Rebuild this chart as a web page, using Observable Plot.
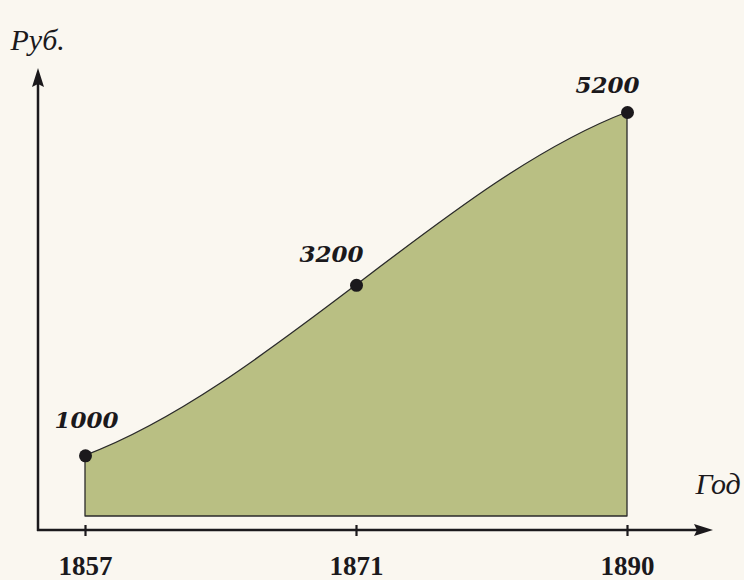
<!DOCTYPE html>
<html>
<head>
<meta charset="utf-8">
<script src="https://cdn.jsdelivr.net/npm/d3@7"></script>
<script src="https://cdn.jsdelivr.net/npm/@observablehq/plot@0.6"></script>
<style>
  html, body { margin: 0; padding: 0; background: #faf7f0; }
  #chart { width: 744px; height: 580px; }
</style>
</head>
<body>
<div id="chart"></div>
<script>
// ---- data ----
const years = [1857, 1871, 1890];
const values = [1000, 3200, 5200];
const valueLabels = ["1000", "3200", "5200"];
const yAxisTitle = "Руб.";
const xAxisTitle = "Год";

const data = years.map((year, i) => ({ year, value: values[i], label: valueLabels[i] }));

// ---- style ----
const W = 744, H = 580;
const mL = 84, mR = 117, mT = 112, mB = 64;
const ink = "#1b191c";
const serif = "Liberation Serif";
const heavySerif = "DejaVu Serif";

// Clamped cubic spline: end tangents are a fraction of the end chords, C2 inside.
function curveClamped(f) {
  return function (context) {
    let xs = [], ys = [], line = NaN;
    return {
      areaStart() { line = 0; },
      areaEnd() { line = NaN; },
      lineStart() { xs = []; ys = []; },
      point(x, y) { xs.push(+x); ys.push(+y); },
      lineEnd() {
        const n = xs.length;
        if (n) {
          if (line) context.lineTo(xs[0], ys[0]); else context.moveTo(xs[0], ys[0]);
          if (n === 2) context.lineTo(xs[1], ys[1]);
          else if (n > 2) {
            const h = [], s = [];
            for (let i = 0; i < n - 1; i++) { h[i] = xs[i + 1] - xs[i]; s[i] = (ys[i + 1] - ys[i]) / h[i]; }
            const m = new Array(n);
            m[0] = f * s[0]; m[n - 1] = f * s[n - 2];
            const k = n - 2, cp = [], dp = [];
            for (let j = 0; j < k; j++) {
              const i = j + 1;
              const a = j === 0 ? 0 : h[i];
              const c = j === k - 1 ? 0 : h[i - 1];
              const b = 2 * (h[i - 1] + h[i]);
              let d = 3 * (h[i] * s[i - 1] + h[i - 1] * s[i]);
              if (j === 0) d -= h[i] * m[0];
              if (j === k - 1) d -= h[i - 1] * m[n - 1];
              if (j === 0) { cp[j] = c / b; dp[j] = d / b; }
              else { const den = b - a * cp[j - 1]; cp[j] = c / den; dp[j] = (d - a * dp[j - 1]) / den; }
            }
            for (let j = k - 1; j >= 0; j--) m[j + 1] = dp[j] - (j < k - 1 ? cp[j] * m[j + 2] : 0);
            for (let i = 0; i < n - 1; i++) {
              const dx = h[i] / 3;
              context.bezierCurveTo(xs[i] + dx, ys[i] + m[i] * dx, xs[i + 1] - dx, ys[i + 1] - m[i + 1] * dx, xs[i + 1], ys[i + 1]);
            }
          }
        }
        if (line || (line !== 0 && n === 1)) context.closePath();
        line = 1 - line;
      }
    };
  };
}

const labelFont = { fontFamily: heavySerif, fontWeight: "bold", fontStyle: "italic", fontSize: 23, fill: ink };

const plot = Plot.plot({
  width: W, height: H,
  marginLeft: mL, marginRight: mR, marginTop: mT, marginBottom: mB,
  style: { background: "#faf7f0", fontFamily: serif, overflow: "visible" },
  x: { type: "point", domain: years, padding: 0 },
  y: { type: "pow", exponent: 1.15, domain: [0, 5200], axis: null },
  marks: [
    Plot.areaY(data, { x: "year", y: "value", curve: curveClamped(0.6),
      fill: "#b9bf83", stroke: "#2a2a2a", strokeWidth: 1.3 }),
    Plot.axisX({ ticks: years, tickFormat: d => String(d), tickSize: 11, dy: 9, tickPadding: 19,
      strokeWidth: 2.2, stroke: ink, fill: ink, fontSize: 27, fontWeight: "bold", fontFamily: serif, label: null }),
    Plot.dot(data, { x: "year", y: "value", r: 6.5, fill: ink }),
    Plot.text(data.slice(0, 1), { x: "year", y: "value", text: "label", dx: 1, dy: -35, ...labelFont }),
    Plot.text(data.slice(1, 2), { x: "year", y: "value", text: "label", dx: -25, dy: -31, ...labelFont }),
    Plot.text(data.slice(2, 3), { x: "year", y: "value", text: "label", dx: -20, dy: -27, ...labelFont }),
    Plot.text([yAxisTitle], { frameAnchor: "top-left", text: d => d, dx: -74, dy: -84, textAnchor: "start",
      fontFamily: serif, fontStyle: "italic", fontSize: 30, fill: ink }),
    Plot.text([xAxisTitle], { frameAnchor: "bottom-right", text: d => d, dx: 68, dy: -23, textAnchor: "start",
      fontFamily: serif, fontStyle: "italic", fontSize: 30, fill: ink })
  ]
});

// ---- axis lines with arrowheads (decoration) ----
const svg = d3.select(plot);
const ax = mL - 46;            // vertical axis x
const ay = H - mB + 14;        // horizontal axis y
const g = svg.append("g").attr("fill", ink).attr("stroke", ink);
g.append("line").attr("x1", ax).attr("y1", ay + 1).attr("x2", ax).attr("y2", 84).attr("stroke-width", 2.5);
g.append("path").attr("stroke", "none").attr("d", `M${ax},68 L${ax + 6},87 L${ax},84 L${ax - 6},87 Z`);
g.append("line").attr("x1", ax - 1).attr("y1", ay).attr("x2", 697).attr("y2", ay).attr("stroke-width", 2.5);
g.append("path").attr("stroke", "none").attr("d", `M713,${ay} L694,${ay - 6} L697,${ay} L694,${ay + 6} Z`);

document.getElementById("chart").appendChild(plot);
</script>
</body>
</html>
